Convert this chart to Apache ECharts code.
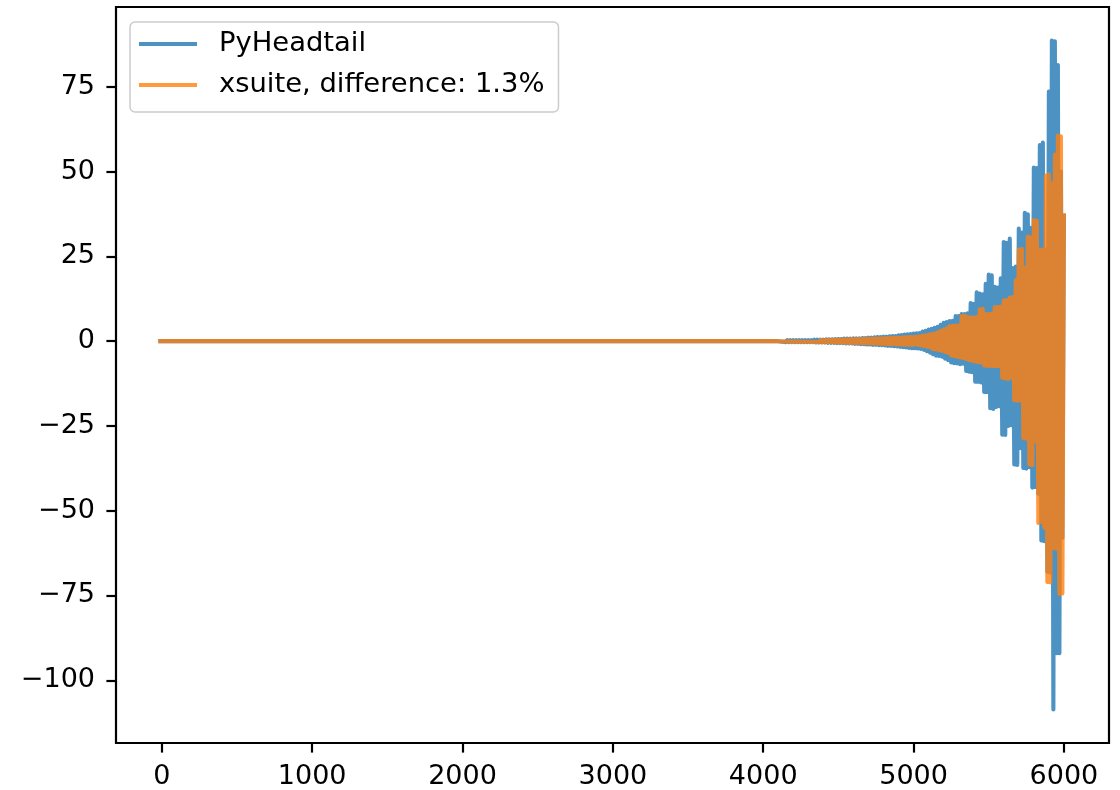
<!DOCTYPE html>
<html>
<head>
<meta charset="utf-8">
<script src="https://cdn.jsdelivr.net/npm/echarts@6.0.0/dist/echarts.min.js"></script>
<style>
  html, body { margin: 0; padding: 0; background: #fff; }
  #chart { width: 1120px; height: 790px; }
</style>
</head>
<body>
<div id="chart"></div>
<script>
// Tick positions on both axes
const xTicks = [0, 1000, 2000, 3000, 4000, 5000, 6000];
const yTicks = [-100, -75, -50, -25, 0, 25, 50, 75];

// Series names
const seriesNames = ['PyHeadtail', 'xsuite, difference: 1.3%'];

// Quiet part of the run: both codes sit on zero
const quietTurns = [-10, 4090];
const quietLevel = [0, 0];

// Instability: one sample every 10 turns from turn 4100 to turn 6000
const turnStart = 4100;
const turnStep = 10;
const pyheadtail = [
  0.1, -0.1, 0.2, -0.2, 0.3, -0.3, 0.3, -0.3, 0.3, -0.3,
  0.3, -0.3, 0.3, -0.3, 0.3, -0.3, 0.3, -0.3, 0.3, -0.3,
  0.3, -0.3, 0.3, -0.3, 0.4, -0.4, 0.4, -0.4, 0.4, -0.4,
  0.4, -0.4, 0.5, -0.5, 0.5, -0.5, 0.5, -0.5, 0.6, -0.6,
  0.6, -0.6, 0.6, -0.6, 0.7, -0.7, 0.7, -0.7, 0.7, -0.7,
  0.8, -0.8, 0.8, -0.8, 0.8, -0.9, 0.9, -0.9, 0.9, -1.0,
  1.0, -1.0, 1.0, -1.1, 1.1, -1.1, 1.2, -1.2, 1.2, -1.2,
  1.3, -1.3, 1.3, -1.4, 1.4, -1.4, 1.5, -1.5, 1.5, -1.6,
  1.7, -1.7, 1.8, -1.8, 1.9, -1.9, 2.0, -2.0, 2.1, -2.1,
  2.2, -2.1, 2.3, -2.2, 2.4, -2.3, 2.8, -2.6, 3.0, -3.0,
  3.4, -3.4, 3.6, -3.9, 3.9, -4.3, 4.2, -4.4, 4.8, -4.6,
  5.4, -5.2, 5.6, -5.6, 5.9, -6.3, 6.0, -6.5, 7.4, -6.6,
  7.4, -6.8, 8.0, -6.7, 8.0, -8.8, 8.2, -9.0, 11.2, -9.2,
  11.0, -12.0, 14.4, -12.0, 14.0, -12.2, 13.8, -15.0, 16.9, -15.0,
  19.6, -19.8, 19.4, -20.0, 16.0, -19.4, 15.8, -19.2, 18.5, -27.6,
  29.2, -27.7, 29.0, -25.0, 30.2, -24.8, 21.5, -36.4, 22.0, -36.5,
  33.2, -31.6, 32.0, -37.4, 37.8, -37.6, 37.4, -37.2, 33.4, -43.2,
  51.2, -43.0, 51.0, -45.0, 57.8, -58.8, 58.5, -59.0, 27.0, -68.0,
  73.6, -68.2, 88.6, -108.6, 88.4, -92.0, 81.4, -92.0, 50.0, -58.0,
  37.0
];
const xsuite = [
  0.05, -0.05, 0.1, -0.1, 0.1, -0.1, 0.1, -0.1, 0.15, -0.15,
  0.15, -0.15, 0.15, -0.15, 0.2, -0.2, 0.2, -0.2, 0.2, -0.2,
  0.2, -0.2, 0.25, -0.25, 0.25, -0.25, 0.3, -0.3, 0.3, -0.3,
  0.3, -0.3, 0.35, -0.35, 0.35, -0.35, 0.4, -0.4, 0.4, -0.4,
  0.45, -0.45, 0.45, -0.45, 0.5, -0.5, 0.5, -0.5, 0.55, -0.55,
  0.55, -0.55, 0.6, -0.6, 0.6, -0.6, 0.65, -0.65, 0.65, -0.65,
  0.7, -0.7, 0.7, -0.7, 0.75, -0.75, 0.8, -0.8, 0.8, -0.8,
  0.85, -0.85, 0.9, -0.9, 0.9, -0.9, 0.95, -0.95, 1.0, -1.0,
  1.0, -1.0, 1.05, -1.05, 1.1, -1.1, 1.15, -1.15, 1.2, -1.2,
  1.2, -1.0, 1.3, -1.1, 1.4, -1.3, 1.6, -1.5, 1.7, -1.7,
  1.9, -1.9, 2.1, -2.4, 2.2, -2.5, 2.6, -2.7, 3.0, -2.9,
  3.4, -3.2, 3.8, -3.5, 4.4, -4.2, 4.5, -4.4, 4.6, -4.6,
  4.6, -4.8, 7.4, -5.0, 7.5, -5.3, 7.0, -5.6, 7.0, -5.8,
  7.0, -6.0, 7.1, -6.2, 9.4, -6.4, 9.5, -7.2, 8.0, -7.3,
  8.0, -7.3, 8.1, -7.3, 10.0, -7.4, 10.0, -7.4, 10.2, -10.8,
  12.0, -11.0, 12.1, -11.2, 12.8, -10.8, 13.0, -17.4, 18.0, -17.6,
  27.0, -17.5, 27.2, -28.6, 21.7, -28.8, 30.8, -36.4, 30.6, -36.6,
  35.7, -29.6, 35.5, -53.6, 27.0, -53.4, 27.0, -55.0, 48.8, -71.0,
  49.2, -71.2, 46.5, -61.0, 55.0, -61.2, 60.6, -74.6, 60.4, -74.4,
  37.0
];

// Join the quiet stretch and the sampled stretch into [turn, value] pairs
function buildSeries(values) {
  const pts = quietTurns.map((t, i) => [t, quietLevel[i]]);
  values.forEach((v, i) => pts.push([turnStart + i * turnStep, v]));
  return pts;
}

const FONT = 'DejaVu Sans';
const withMinus = v => (v < 0 ? '\u2212' + Math.abs(v) : String(v));

const chart = echarts.init(document.getElementById('chart'), null, { renderer: 'canvas' });

function lineSeries(name, color, values) {
  return {
    name: name,
    type: 'line',
    data: buildSeries(values),
    symbol: 'none',
    showSymbol: false,
    silent: true,
    clip: true,
    emphasis: { disabled: true },
    itemStyle: { color: color },
    lineStyle: { color: color, width: 4.1, opacity: 0.8, cap: 'square', join: 'round' }
  };
}

function axisStyle(ticks, margin, padding) {
  return {
    splitLine: { show: false },
    axisLine: { show: false, onZero: false },
    axisTick: { show: true, inside: false, length: 9.6, customValues: ticks,
      lineStyle: { color: '#000', width: 2.2 } },
    axisLabel: { customValues: ticks, fontSize: 27, color: '#000', margin: margin,
      padding: padding, fontFamily: FONT, formatter: withMinus }
  };
}

chart.setOption({
  animation: false,
  backgroundColor: '#ffffff',
  textStyle: { fontFamily: FONT },
  grid: {
    left: 116, right: 11, top: 7, bottom: 44,
    show: true, borderColor: '#000', borderWidth: 2.2, backgroundColor: 'transparent'
  },
  xAxis: Object.assign({ type: 'value', min: -305, max: 6300 }, axisStyle(xTicks, 20, 0)),
  yAxis: Object.assign({ type: 'value', min: -118.5, max: 98.5 }, axisStyle(yTicks, 21, [6, 0, 0, 0])),
  legend: {
    orient: 'vertical', left: 130, top: 22,
    padding: [7, 14, 12, 9], itemGap: 11, itemWidth: 58, itemHeight: 4,
    backgroundColor: 'rgba(255,255,255,0.8)', borderColor: '#cccccc',
    borderWidth: 1.5, borderRadius: 5, selectedMode: false,
    textStyle: { fontSize: 27.4, color: '#000', fontFamily: FONT, lineHeight: 30, padding: [0, 0, 0, 17] },
    data: [
      { name: seriesNames[0], icon: 'rect', itemStyle: { color: 'rgba(31,119,180,0.8)' } },
      { name: seriesNames[1], icon: 'rect', itemStyle: { color: 'rgba(255,127,14,0.8)' } }
    ]
  },
  series: [
    lineSeries(seriesNames[0], '#1f77b4', pyheadtail),
    lineSeries(seriesNames[1], '#ff7f0e', xsuite)
  ]
});
</script>
</body>
</html>
